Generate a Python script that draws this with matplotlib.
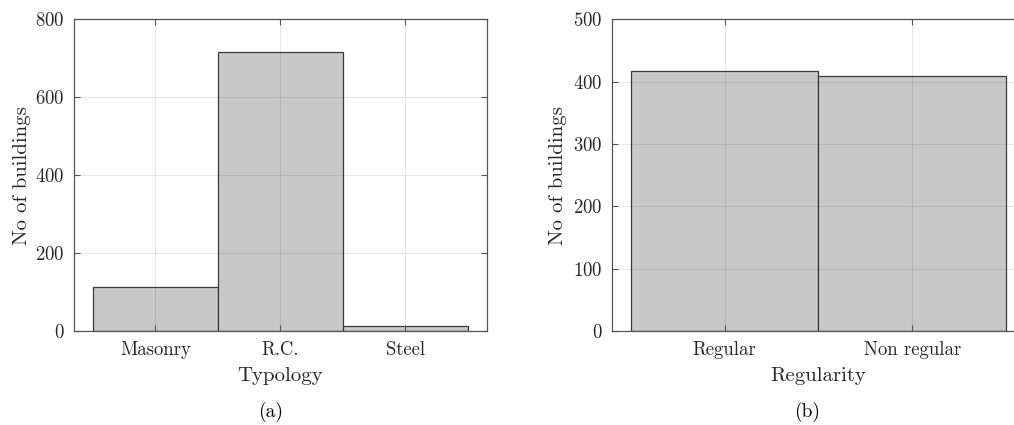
import matplotlib as mpl
mpl.use('Agg')
import matplotlib.pyplot as plt

# data
typology = ["Masonry", "R.C.", "Steel"]
typology_counts = [113, 715, 12]
regularity = ["Regular", "Non regular"]
regularity_counts = [417, 409]

plt.rcParams['font.family'] = 'serif'
plt.rcParams['font.serif'] = ['cmr10']
plt.rcParams['axes.formatter.use_mathtext'] = True

txt = '#262626'
edge = '#555555'


def style(ax, xlim, ylim, yticks, n):
    ax.set_xlim(*xlim)
    ax.set_ylim(*ylim)
    ax.set_yticks(yticks)
    ax.set_xticks(range(1, n + 1))
    ax.tick_params(direction='in', length=4, width=0.8, top=True, right=True,
                   labelsize=13.5, colors=edge, labelcolor=txt, pad=7)
    ax.grid(True, color='k', alpha=0.09, linewidth=0.8)
    ax.set_axisbelow(False)
    for s in ax.spines.values():
        s.set_color(edge)
        s.set_linewidth(0.9)


fig = plt.figure(figsize=(10.14, 4.25), dpi=100)

ax1 = fig.add_axes([0.073, 0.221, 0.407, 0.734])
ax1.bar(range(1, 4), typology_counts, width=1.0, color='#c8c8c8',
        edgecolor='#3a3a3a', linewidth=0.9, zorder=1)
style(ax1, (0.35, 3.65), (0, 800), [0, 200, 400, 600, 800], 3)
ax1.set_xticklabels(typology)
ax1.set_xlabel("Typology", fontsize=15, color=txt, labelpad=6)
ax1.set_ylabel("No of buildings", fontsize=15, color=txt, labelpad=3)

ax2 = fig.add_axes([0.6036, 0.221, 0.407, 0.734])
ax2.bar(range(1, 3), regularity_counts, width=1.0, color='#c8c8c8',
        edgecolor='#3a3a3a', linewidth=0.9, zorder=1)
style(ax2, (0.4, 2.6), (0, 500), [0, 100, 200, 300, 400, 500], 2)
ax2.set_xticklabels(regularity)
ax2.set_xlabel("Regularity", fontsize=15, color=txt, labelpad=6)
ax2.set_ylabel("No of buildings", fontsize=15, color=txt, labelpad=4)

fig.text(0.267, 0.018, "(a)", fontsize=14, color='k', ha='center')
fig.text(0.7955, 0.018, "(b)", fontsize=14, color='k', ha='center')

fig.savefig("out.png", dpi=100)
